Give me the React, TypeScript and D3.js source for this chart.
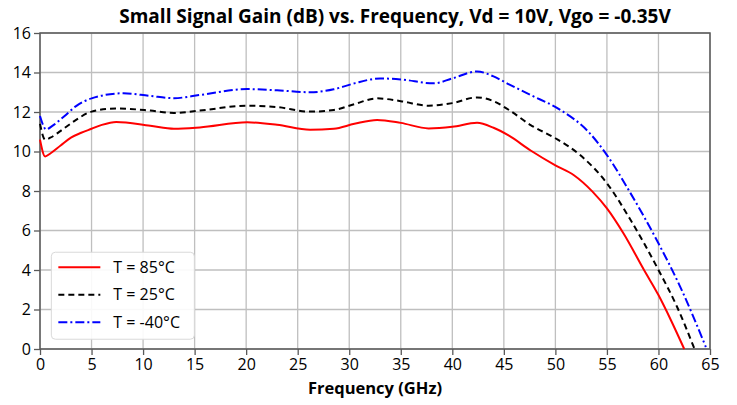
import { useEffect, useRef } from "react";
import * as d3 from "d3";

const freqs = [0, 0.5, 1, 2, 3, 4, 5, 6, 7.4, 10.7, 13, 15.5, 20.1, 23, 26.2, 28.5, 30.5, 32.7, 35, 37.7, 40, 42.4, 44, 45.5, 47.6, 50, 51.8, 53.6, 55, 56.6, 58.6, 60, 61.2, 62.5];
const hot = [10.6, 9.75, 9.9, 10.3, 10.7, 10.95, 11.15, 11.35, 11.5, 11.3, 11.15, 11.22, 11.48, 11.35, 11.1, 11.15, 11.4, 11.6, 11.45, 11.17, 11.25, 11.45, 11.2, 10.8, 10.05, 9.3, 8.8, 7.97, 7.12, 5.86, 4.0, 2.73, 1.47, 0];

const roomFreqs = [0, 0.5, 1, 2.3, 3.5, 5, 7.4, 10.7, 13, 15.5, 20.1, 23, 26.2, 28.5, 30.5, 32.7, 35, 37.7, 40, 42.4, 44, 45.5, 47.6, 50, 52.4, 55, 57.3, 60, 61.8, 63.5];
const room = [11.4, 10.6, 10.7, 11.16, 11.6, 12.02, 12.18, 12.07, 11.95, 12.07, 12.32, 12.25, 12.02, 12.1, 12.4, 12.69, 12.55, 12.32, 12.45, 12.74, 12.55, 12.1, 11.34, 10.67, 9.82, 8.39, 6.53, 4.0, 2.14, 0];

const coldFreqs = [0, 0.6, 1.2, 2.3, 3.5, 5, 8.1, 10.7, 13, 15.5, 20.1, 23, 26.2, 28.5, 30.5, 33, 35, 38.2, 40, 42.4, 44, 45.5, 47.6, 50.5, 53.2, 55, 57.3, 60, 62.1, 64.6];
const cold = [11.8, 11.12, 11.3, 11.76, 12.3, 12.69, 12.95, 12.81, 12.7, 12.86, 13.16, 13.1, 13.0, 13.15, 13.45, 13.7, 13.65, 13.45, 13.7, 14.05, 13.8, 13.4, 12.86, 12.1, 11.0, 9.82, 7.88, 5.35, 3.16, 0.1];

const xTicks = d3.range(0, 70, 5);
const yTicks = d3.range(0, 18, 2);

const seriesList = [
  { label: "T = 85°C", x: freqs, y: hot, color: "#ff0000", dash: "" },
  { label: "T = 25°C", x: roomFreqs, y: room, color: "#000000", dash: "6,4" },
  { label: "T = -40°C", x: coldFreqs, y: cold, color: "#0000ff", dash: "9,3,2,3" },
];

const W = 737;
const H = 405;
const margin = { top: 33, right: 27, bottom: 56, left: 40 };
const font = "'Open Sans', 'Noto Sans', sans-serif";

export default function App() {
  const ref = useRef<SVGSVGElement>(null);

  useEffect(() => {
    const svg = d3.select(ref.current);
    svg.selectAll("*").remove();

    const innerW = W - margin.left - margin.right;
    const innerH = H - margin.top - margin.bottom;

    const x = d3.scaleLinear().domain([0, 65]).range([0, innerW]);
    const y = d3.scaleLinear().domain([0, 16]).range([innerH, 0]);

    svg.append("rect").attr("width", W).attr("height", H).attr("fill", "#fff");

    const g = svg.append("g").attr("transform", `translate(${margin.left},${margin.top})`);

    // grid
    g.selectAll("line.vg")
      .data(xTicks)
      .enter()
      .append("line")
      .attr("x1", (d) => x(d))
      .attr("x2", (d) => x(d))
      .attr("y1", 0)
      .attr("y2", innerH)
      .attr("stroke", "#bfbfbf")
      .attr("stroke-width", 1.3);

    g.selectAll("line.hg")
      .data(yTicks)
      .enter()
      .append("line")
      .attr("x1", 0)
      .attr("x2", innerW)
      .attr("y1", (d) => y(d))
      .attr("y2", (d) => y(d))
      .attr("stroke", "#bfbfbf")
      .attr("stroke-width", 1.3);

    // frame
    g.append("rect")
      .attr("width", innerW)
      .attr("height", innerH)
      .attr("fill", "none")
      .attr("stroke", "#595959")
      .attr("stroke-width", 1.5);

    // axes
    const xAxis = g
      .append("g")
      .attr("transform", `translate(0,${innerH})`)
      .call(d3.axisBottom(x).tickValues(xTicks).tickSize(6).tickPadding(4));
    const yAxis = g.append("g").call(d3.axisLeft(y).tickValues(yTicks).tickSize(6).tickPadding(3));

    [xAxis, yAxis].forEach((a) => {
      a.select(".domain").remove();
      a.selectAll("line").attr("stroke", "#595959").attr("stroke-width", 1.3);
      a.selectAll("text")
        .attr("fill", "#000")
        .style("font-family", font)
        .style("font-size", "16px");
    });

    // lines
    seriesList.forEach((s) => {
      const pts = s.x.map((f, i) => [f, s.y[i]] as [number, number]);
      const line = d3
        .line<[number, number]>()
        .x((d) => x(d[0]))
        .y((d) => y(d[1]))
        .curve(d3.curveMonotoneX);
      g.append("path")
        .datum(pts)
        .attr("d", line)
        .attr("fill", "none")
        .attr("stroke", s.color)
        .attr("stroke-width", 2)
        .attr("stroke-dasharray", s.dash);
    });

    // legend
    const lg = g.append("g").attr("transform", `translate(${x(1.1)},${y(4.9)})`);
    lg.append("rect")
      .attr("width", 143)
      .attr("height", 87)
      .attr("rx", 4)
      .attr("fill", "#fff")
      .attr("fill-opacity", 0.9)
      .attr("stroke", "#d9d9d9");
    seriesList.forEach((s, i) => {
      const yy = 15 + i * 27.5;
      lg.append("line")
        .attr("x1", 7)
        .attr("x2", 49)
        .attr("y1", yy)
        .attr("y2", yy)
        .attr("stroke", s.color)
        .attr("stroke-width", 2)
        .attr("stroke-dasharray", s.dash);
      lg.append("text")
        .attr("x", 62)
        .attr("y", yy)
        .attr("dy", "0.35em")
        .style("font-family", font)
        .style("font-size", "16px")
        .text(s.label);
    });

    // title
    svg
      .append("text")
      .attr("x", 395)
      .attr("y", 23)
      .attr("text-anchor", "middle")
      .style("font-family", font)
      .style("font-size", "19px")
      .style("font-weight", "bold")
      .text("Small Signal Gain (dB) vs. Frequency, Vd = 10V, Vgo = -0.35V");

    svg
      .append("text")
      .attr("x", margin.left + innerW / 2)
      .attr("y", 394)
      .attr("text-anchor", "middle")
      .style("font-family", font)
      .style("font-size", "16.5px")
      .style("font-weight", "bold")
      .text("Frequency (GHz)");
  }, []);

  return (
    <svg
      ref={ref}
      width={W}
      height={H}
      style={{ position: "absolute", left: 0, top: 0, display: "block" }}
    />
  );
}
